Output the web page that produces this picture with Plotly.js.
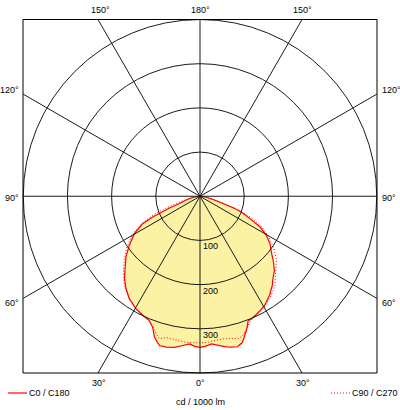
<!DOCTYPE html>
<html>
<head>
<meta charset="utf-8">
<script src="https://cdn.plot.ly/plotly-3.0.1.min.js"></script>
<style>html,body{margin:0;padding:0;background:#fff;}#chart{width:400px;height:410px;}</style>
</head>
<body>
<div id="chart"></div>
<script>
// ---- Data (cd / 1000 lm), gamma angles in degrees from nadir ----
const gammaC0   = [0, 2, 4.5, 7.5, 10, 12, 14, 16, 17, 18, 19, 20, 21, 23, 25, 28, 30.6, 35, 39, 41, 45, 48, 52, 56, 59.5, 63, 66, 69, 71, 73, 75, 78, 82, 86, 90];
const valuesC0  = [342, 340, 335, 341, 346, 349, 351, 345, 338, 329, 322, 313, 303, 300, 297, 292, 287, 274, 260, 251, 238, 224, 205, 191, 174, 152, 123, 100, 78, 50, 35, 22, 12, 4, 0];
const gammaC180  = [0, 2, 4, 6.6, 9.6, 12.6, 15.2, 16.5, 17.9, 19.9, 22.2, 25.7, 29.6, 34.6, 38.6, 42.5, 45.3, 50.6, 55.2, 60.3, 64.5, 66.3, 67, 69, 70.5, 74, 78, 82, 86, 90];
const valuesC180 = [342, 340, 335, 340, 347, 350, 350, 343, 335, 315, 304, 299, 293, 282, 268, 253, 239, 217, 195, 171, 144, 117, 100, 74, 49, 35, 22, 12, 4, 0];
const gammaC90   = [0, 3, 6, 9, 12, 15, 17, 19, 21, 23, 26, 30, 35, 40, 45, 50, 55, 60, 64, 67, 69, 71, 73, 76, 80, 85, 90];
const valuesC90  = [332, 331, 328, 327, 329, 334, 330, 320, 309, 302, 297, 290, 278, 264, 242, 226, 204, 178, 153, 128, 105, 80, 55, 35, 20, 7, 0];
const gammaC270  = [0, 5.4, 8.1, 10.8, 13.5, 15.9, 17.7, 20.1, 23, 26, 30, 35, 40, 45, 50, 55, 60, 64, 67, 69, 71, 73, 76, 80, 85, 90];
const valuesC270 = [332, 332, 331, 329, 329, 335, 327, 312, 302, 298, 292, 280, 266, 245, 224, 202, 178, 152, 126, 104, 80, 55, 35, 20, 7, 0];

const radialTicks = [100, 200, 300, 400];
const radialLabelValues = [100, 200, 300];
const radialLabelText = ['100', '200', '300'];
const radialMax = 400;
const angleLabelsTop = ['150°', '180°', '150°'];
const angleLabelsSide = ['120°', '90°', '60°'];
const angleLabelsBottom = ['30°', '0°', '30°'];
const legendNames = ['C0 / C180', 'C90 / C270'];
const unitLabel = 'cd / 1000 lm';

// ---- Build curves: left half (C180 / C270) as negative angles, right half (C0 / C90) positive ----
function halfPlane(gL, vL, gR, vR) {
  const th = [], r = [];
  for (let i = gL.length - 1; i >= 0; i--) { th.push(-gL[i]); r.push(vL[i]); }
  for (let i = 0; i < gR.length; i++) { th.push(gR[i]); r.push(vR[i]); }
  return {th, r};
}
const solid = halfPlane(gammaC180, valuesC180, gammaC0, valuesC0);
const dotted = halfPlane(gammaC270, valuesC270, gammaC90, valuesC90);

const RED = '#ff0000';
const GRID = '#1a1a1a';
const FONT = {family: 'Liberation Sans, Arial, sans-serif', size: 9, color: '#000'};

const traces = [
  {type: 'scatterpolar', subplot: 'polar', mode: 'lines', theta: solid.th, r: solid.r, fill: 'toself',
   fillcolor: '#fbf2a4', line: {color: RED, width: 1.2}, showlegend: false, hoverinfo: 'skip'},
  {type: 'scatterpolar', subplot: 'polar', mode: 'lines', theta: dotted.th, r: dotted.r,
   line: {color: RED, width: 1, dash: '1px,2px'}, showlegend: false, hoverinfo: 'skip'},
  // empty trace so the grid overlay subplot is drawn on top of the filled curve
  {type: 'scatterpolar', subplot: 'polar2', mode: 'lines', theta: [], r: [], showlegend: false, hoverinfo: 'skip'}
];

// ---- Geometry of the frame (pixels) ----
const W = 400, H = 410;
const boxL = 23, boxR = 377, boxT = 19.5, boxB = 373;
const cx = (boxL + boxR) / 2, cy = (boxT + boxB) / 2;
const R = Math.min(boxR - boxL, boxB - boxT) / 2;
const px = x => x / W, py = y => 1 - y / H;

const shapes = [
  {type: 'rect', xref: 'paper', yref: 'paper', x0: px(boxL), x1: px(boxR), y0: py(boxB), y1: py(boxT),
   line: {color: '#000', width: 1}, fillcolor: 'rgba(0,0,0,0)', layer: 'above'}
];
// extend the 30° spokes from the outer circle to the frame
[30, 60, 120, 150, -30, -60, -120, -150].forEach(a => {
  const s = Math.sin(a * Math.PI / 180), c = Math.cos(a * Math.PI / 180);
  const t = (Math.abs(c) >= Math.abs(s)) ? R / Math.abs(c) : R / Math.abs(s);
  shapes.push({type: 'line', xref: 'paper', yref: 'paper',
    x0: px(cx + R * s), y0: py(cy + R * c), x1: px(cx + t * s), y1: py(cy + t * c),
    line: {color: GRID, width: 1}, layer: 'below'});
});
// legend line samples
shapes.push({type: 'line', xref: 'paper', yref: 'paper', x0: px(8), x1: px(27), y0: py(393), y1: py(393), line: {color: RED, width: 1.2}});
shapes.push({type: 'line', xref: 'paper', yref: 'paper', x0: px(331), x1: px(350), y0: py(393), y1: py(393), line: {color: RED, width: 1, dash: '1px,2px'}});

const ann = (x, y, text, xa, ya) => ({xref: 'paper', yref: 'paper', x: px(x), y: py(y), text, showarrow: false,
  xanchor: xa || 'center', yanchor: ya || 'middle', font: FONT});
const annotations = [
  ann(100, 10, angleLabelsTop[0]), ann(200, 10, angleLabelsTop[1]), ann(302, 10, angleLabelsTop[2]),
  ann(21, 90, angleLabelsSide[0], 'right'), ann(21, 198, angleLabelsSide[1], 'right'), ann(21, 303, angleLabelsSide[2], 'right'),
  ann(380, 90, angleLabelsSide[0], 'left'), ann(380, 198, angleLabelsSide[1], 'left'), ann(380, 303, angleLabelsSide[2], 'left'),
  ann(99, 383, angleLabelsBottom[0]), ann(200, 383, angleLabelsBottom[1]), ann(303, 383, angleLabelsBottom[2]),
  ann(27, 393, legendNames[0], 'left'), ann(350, 393, legendNames[1], 'left'),
  ann(200, 402, unitLabel)
];
// radial value labels just below each circle, right of the 0° axis
radialLabelValues.forEach((v, i) => {
  annotations.push(ann(cx + 1, cy + R * v / radialMax - 1, radialLabelText[i], 'left', 'top'));
});

const domain = {x: [px(boxL), px(boxR)], y: [py(boxB), py(boxT)]};
const layout = {
  width: W, height: H, margin: {l: 0, r: 0, t: 0, b: 0},
  paper_bgcolor: '#fff', showlegend: false, font: FONT,
  polar: {
    domain, bgcolor: '#fff',
    angularaxis: {rotation: -90, direction: 'counterclockwise', showgrid: false, showticklabels: false, ticks: '', showline: false},
    radialaxis: {range: [0, radialMax], showgrid: false, showticklabels: false, showline: false, ticks: ''}
  },
  polar2: {
    domain, bgcolor: 'rgba(0,0,0,0)',
    angularaxis: {rotation: -90, direction: 'counterclockwise', dtick: 30, tick0: 0,
      showgrid: true, gridcolor: GRID, gridwidth: 1, showticklabels: false, ticks: '',
      showline: true, linecolor: GRID, linewidth: 1},
    radialaxis: {range: [0, radialMax], tickvals: radialTicks, showticklabels: false,
      showgrid: true, gridcolor: GRID, gridwidth: 1, showline: false, ticks: ''}
  },
  shapes, annotations
};

Plotly.newPlot('chart', traces, layout, {staticPlot: true, displayModeBar: false});
</script>
</body>
</html>
